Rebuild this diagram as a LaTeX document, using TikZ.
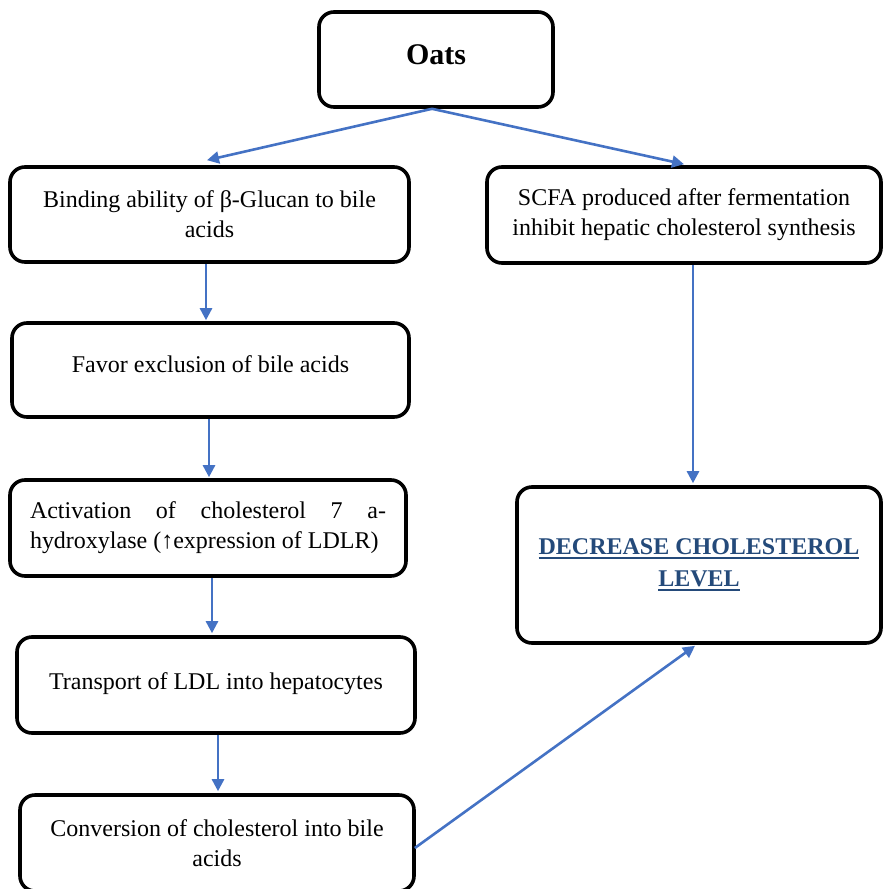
\documentclass[tikz,border=0pt]{standalone}
\usepackage{fontspec}
\setmainfont{Liberation Serif}
\usetikzlibrary{arrows.meta,calc}
\definecolor{arrowblue}{RGB}{68,114,196}
\definecolor{headblue}{RGB}{36,74,122}
% thick underline for the outcome box
\newcommand{\thickul}[1]{{\setbox0\hbox{#1}\rlap{\rule[-4.5pt]{\wd0}{2.4pt}}\box0}}
\begin{document}
\begin{tikzpicture}[x=1pt,y=-1pt,
  box/.style={draw=black,line width=3.6pt,rounded corners=15pt,fill=white,
    align=center,font=\fontsize{24}{30}\selectfont,inner sep=0pt},
  link/.style={draw=arrowblue,line width=2.6pt,
    -{Triangle[length=12pt,width=12pt]}}]
\useasboundingbox (0,0) rectangle (884,889);

\node[box,minimum width=234,minimum height=95,font=\fontsize{30}{34}\selectfont\bfseries]
  (oats) at (436,59.5) {\raisebox{9pt}{Oats}};
\node[box,minimum width=399,minimum height=95] (bind) at (209.5,214.5)
  {Binding ability of β-Glucan to bile\\acids};
\node[box,minimum width=394,minimum height=96] (scfa) at (684,215)
  {SCFA produced after fermentation\\inhibit hepatic cholesterol synthesis};
\node[box,minimum width=397,minimum height=94] (favor) at (210.5,370)
  {\raisebox{11pt}{Favor exclusion of bile acids}};
\node[box,minimum width=396,minimum height=96,text width=356,align=justify] (act) at (208,528)
  {Activation of cholesterol 7 a-\linebreak hydroxylase (↑expression of LDLR)};
\node[box,minimum width=398,minimum height=96] (trans) at (216,685)
  {\raisebox{8pt}{Transport of LDL into hepatocytes}};
\node[box,minimum width=394,minimum height=96] (conv) at (217,843)
  {Conversion of cholesterol into bile\\acids};
\node[box,minimum width=364,minimum height=156,text=headblue,
  font=\fontsize{24}{32}\selectfont\bfseries] (dec) at (699,565)
  {\raisebox{5pt}{\thickul{DECREASE CHOLESTEROL}}\\\raisebox{5pt}{\thickul{LEVEL}}};

% connectors
\coordinate (split) at ($(oats.south)+(-4,0)$);
\draw[link] (split) -- ($(bind.north)+(-2.5,-5)$);
\draw[link] (split) -- ($(scfa.north)+(0,-1)$);
\draw[link] ($(bind.south)+(-3.5,0)$) -- ($(favor.north)+(-4.5,-1)$);
\draw[link] ($(favor.south)+(-1.5,0)$) -- ($(act.north)+(1,-1)$);
\draw[link] ($(act.south)+(4,0)$) -- ($(trans.north)+(-4,-2)$);
\draw[link] ($(trans.south)+(2,0)$) -- ($(conv.north)+(1,-2)$);
\draw[link] ($(scfa.south)+(9,0)$) -- ($(dec.north)+(-6,-2)$);
\draw[link] ($(conv.east)+(-1,5)$) -- ($(dec.south)+(-4,1)$);
\end{tikzpicture}
\end{document}
